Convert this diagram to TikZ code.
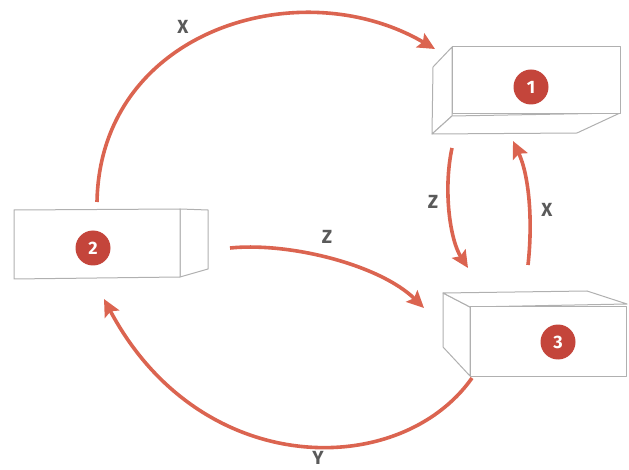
\documentclass[tikz,border=0pt]{standalone}
\usepackage{fontspec}
\setmainfont{Fira Sans}
\usetikzlibrary{arrows.meta}
\definecolor{arrowred}{HTML}{DB6450}
\definecolor{badgered}{HTML}{C4453B}
\definecolor{boxgray}{HTML}{B0B0B0}
\definecolor{labelgray}{HTML}{5A5A5A}
\tikzset{
  boxline/.style={draw=boxgray, line width=1pt, line join=round, fill=white},
  flow/.style={draw=arrowred, line width=3.6pt, -{Stealth[length=17pt,width=16pt,inset=3pt]}},
  badge/.style={circle, fill=badgered, minimum size=35pt, inner sep=0pt, text=white, font=\fontsize{18}{18}\selectfont\bfseries},
  lbl/.style={text=labelgray, font=\fontsize{19}{19}\selectfont\bfseries}
}
\begin{document}
\begin{tikzpicture}[x=1pt,y=-1pt]
\useasboundingbox (0,0) rectangle (629,470);
% Box 1
\draw[boxline] (452,47) -- (433,67) -- (432,134) -- (452,116) -- cycle;
\draw[boxline] (452,116) -- (432,134) -- (577,133) -- (620,113) -- cycle;
\draw[boxline] (452,47) rectangle (620,113.5);
\node[badge] (b1) at (531,87) {1};
% Box 2
\draw[boxline] (180,209) -- (208,210) -- (208,269) -- (180,277) -- cycle;
\draw[boxline] (14,210) -- (180,209) -- (180,277) -- (14,279) -- cycle;
\node[badge] (b2) at (93,248) {2};
% Box 3
\draw[boxline] (443,293) -- (470,307) -- (470,376) -- (443,347) -- cycle;
\draw[boxline] (443,293) -- (587,291) -- (627,304) -- (470,307) -- cycle;
\draw[boxline] (470,307) rectangle (626,376);
\node[badge] (b3) at (558,342) {3};
% connector end points
\coordinate (s1) at (97,202);
\coordinate (e1) at (435,49);
\coordinate (s2) at (230,248);
\coordinate (e2) at (424,308);
\coordinate (s3) at (452,148);
\coordinate (e3) at (468,268);
\coordinate (s4) at (528,265);
\coordinate (e4) at (513,141);
\coordinate (s5) at (472,378);
\coordinate (e5) at (104,299);
% arrows
\draw[flow] (s1) .. controls (100,30) and (300,-30) .. (e1);
\draw[flow] (s2) .. controls (290,242) and (380,265) .. (e2);
\draw[flow] (s3) .. controls (443,190) and (450,240) .. (e3);
\draw[flow] (s4) .. controls (533,220) and (529,175) .. (e4);
\draw[flow] (s5) .. controls (400,480) and (200,480) .. (e5);
% labels
\node[lbl] (lx1) at (183,27) {X};
\node[lbl] (lz1) at (327,237) {Z};
\node[lbl] (lz2) at (433,202) {Z};
\node[lbl] (lx2) at (547,210) {X};
\node[lbl] (ly) at (318,458) {Y};
\end{tikzpicture}
\end{document}
